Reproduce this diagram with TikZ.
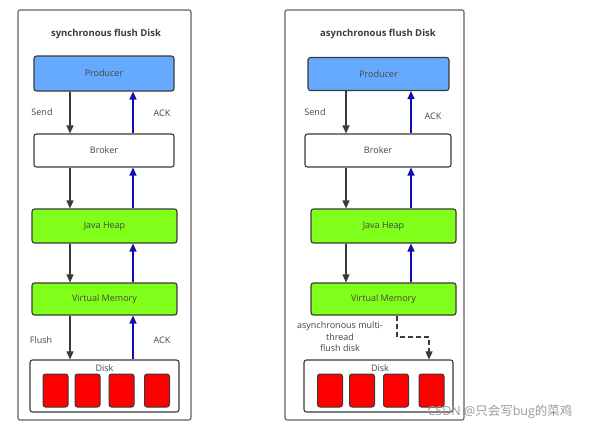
\documentclass[tikz,border=0pt]{standalone}
\usepackage{fontspec}
\setmainfont{Open Sans}
\newfontfamily\cjk{Noto Sans CJK SC}
\usetikzlibrary{arrows.meta}
\definecolor{txt}{HTML}{444444}
\definecolor{edge}{HTML}{3A3A3A}
\definecolor{prodblue}{HTML}{66AAFF}
\definecolor{heapgreen}{HTML}{80FF1A}
\definecolor{ackblue}{HTML}{1010B0}
\definecolor{diskred}{HTML}{FF0000}
\tikzset{
  panel/.style={draw=edge!80, line width=1.1pt, rounded corners=2pt},
  box/.style={draw=edge, line width=1.1pt, rounded corners=2.5pt, font=\fontsize{9}{10}\selectfont, text=txt, inner sep=0pt},
  cell/.style={draw=edge, line width=1pt, rounded corners=2.5pt, fill=diskred, minimum width=25pt, minimum height=33pt, inner sep=0pt},
  down/.style={draw=edge, line width=1.3pt, -{Triangle[length=8pt,width=7pt]}},
  up/.style={draw=ackblue, line width=1.3pt, -{Triangle[length=8pt,width=7pt]}},
  lbl/.style={font=\fontsize{9}{10}\selectfont, text=txt, inner sep=0pt},
  ttl/.style={font=\bfseries\fontsize{9.5}{11}\selectfont, text=txt!90!black, inner sep=0pt},
}
\begin{document}
\begin{tikzpicture}[x=1pt,y=-1pt]
\useasboundingbox[fill=white] (0,0) rectangle (589,431);
% ---------------- left panel ----------------
\node[panel, minimum width=173pt, minimum height=410pt] (lpanel) at (104.5,215) {};
\node[ttl] (ltitle) at (106,34) {synchronous flush Disk};
\node[box, fill=prodblue, minimum width=140pt, minimum height=35pt] (lprod) at (104,73.5) {Producer};
\node[box, fill=white, minimum width=140pt, minimum height=33pt] (lbroker) at (104,150.5) {Broker};
\node[box, fill=heapgreen, minimum width=145pt, minimum height=34pt] (lheap) at (104.5,226) {Java Heap};
\node[box, fill=heapgreen, minimum width=145pt, minimum height=32pt] (lvm) at (104.5,299) {Virtual Memory};
\node[box, fill=white, minimum width=149pt, minimum height=52pt] (ldisk) at (104.5,386) {};
\node[lbl] (ldisklbl) at (104.5,368) {Disk};
\node[cell] (lc1) at (55.5,390.5) {};
\node[cell] (lc2) at (87.5,390.5) {};
\node[cell] (lc3) at (121.5,390.5) {};
\node[cell] (lc4) at (157,390.5) {};
\coordinate (ldx) at (70,0);
\coordinate (lux) at (133,0);
\draw[down] (lprod.south -| ldx) -- (lbroker.north -| ldx);
\draw[down] (lbroker.south -| ldx) -- (lheap.north -| ldx);
\draw[down] (lheap.south -| ldx) -- (lvm.north -| ldx);
\draw[down] (lvm.south -| ldx) -- (ldisk.north -| ldx);
\draw[up] (lbroker.north -| lux) -- (lprod.south -| lux);
\draw[up] (lheap.north -| lux) -- (lbroker.south -| lux);
\draw[up] (lvm.north -| lux) -- (lheap.south -| lux);
\draw[up] (ldisk.north -| lux) -- (lvm.south -| lux);
\node[lbl] (lsend) at (42,112) {Send};
\node[lbl] (lack1) at (162,113) {ACK};
\node[lbl] (lflush) at (41,340) {Flush};
\node[lbl] (lack2) at (162,340) {ACK};
% ---------------- right panel ----------------
\node[panel, minimum width=179pt, minimum height=410pt] (rpanel) at (374.5,215) {};
\node[ttl] (rtitle) at (378,34) {asynchronous flush Disk};
\node[box, fill=prodblue, minimum width=141pt, minimum height=33pt] (rprod) at (378.5,74) {Producer};
\node[box, fill=white, minimum width=146pt, minimum height=33pt] (rbroker) at (378,150.5) {Broker};
\node[box, fill=heapgreen, minimum width=145pt, minimum height=34pt] (rheap) at (383.5,226) {Java Heap};
\node[box, fill=heapgreen, minimum width=145pt, minimum height=32pt] (rvm) at (383.5,299) {Virtual Memory};
\node[box, fill=white, minimum width=149pt, minimum height=52pt] (rdisk) at (378.5,386) {};
\node[lbl] (rdisklbl) at (380,368) {Disk};
\node[cell] (rc1) at (330,390.5) {};
\node[cell] (rc2) at (362,390.5) {};
\node[cell] (rc3) at (396,390.5) {};
\node[cell] (rc4) at (431.5,390.5) {};
\coordinate (rdx) at (346,0);
\coordinate (rux) at (411,0);
\draw[down] (rprod.south -| rdx) -- (rbroker.north -| rdx);
\draw[down] (rbroker.south -| rdx) -- (rheap.north -| rdx);
\draw[down] (rheap.south -| rdx) -- (rvm.north -| rdx);
\draw[up] (rbroker.north -| rux) -- (rprod.south -| rux);
\draw[up] (rheap.north -| rux) -- (rbroker.south -| rux);
\draw[up] (rvm.north -| rux) -- (rheap.south -| rux);
\coordinate (rdash1) at (397,337);
\coordinate (rdash2) at (429,337);
\draw[down, dashed, dash pattern=on 5pt off 3pt] (rvm.south -| rdash1) -- (rdash1) -- (rdash2) -- (rdisk.north -| rdash2);
\node[lbl] (rsend) at (315,112) {Send};
\node[lbl] (rack1) at (433,116) {ACK};
\node[lbl, align=center, font=\fontsize{9}{11.5}\selectfont] (rasync) at (340,337) {asynchronous multi-\\thread\\flush disk};
% watermark
\node[inner sep=0pt, text=black!40, font=\fontsize{12.5}{14}\selectfont] (wm) at (500,412) {CSDN @{\cjk 只会写}bug{\cjk 的菜鸡}};
\end{tikzpicture}
\end{document}
